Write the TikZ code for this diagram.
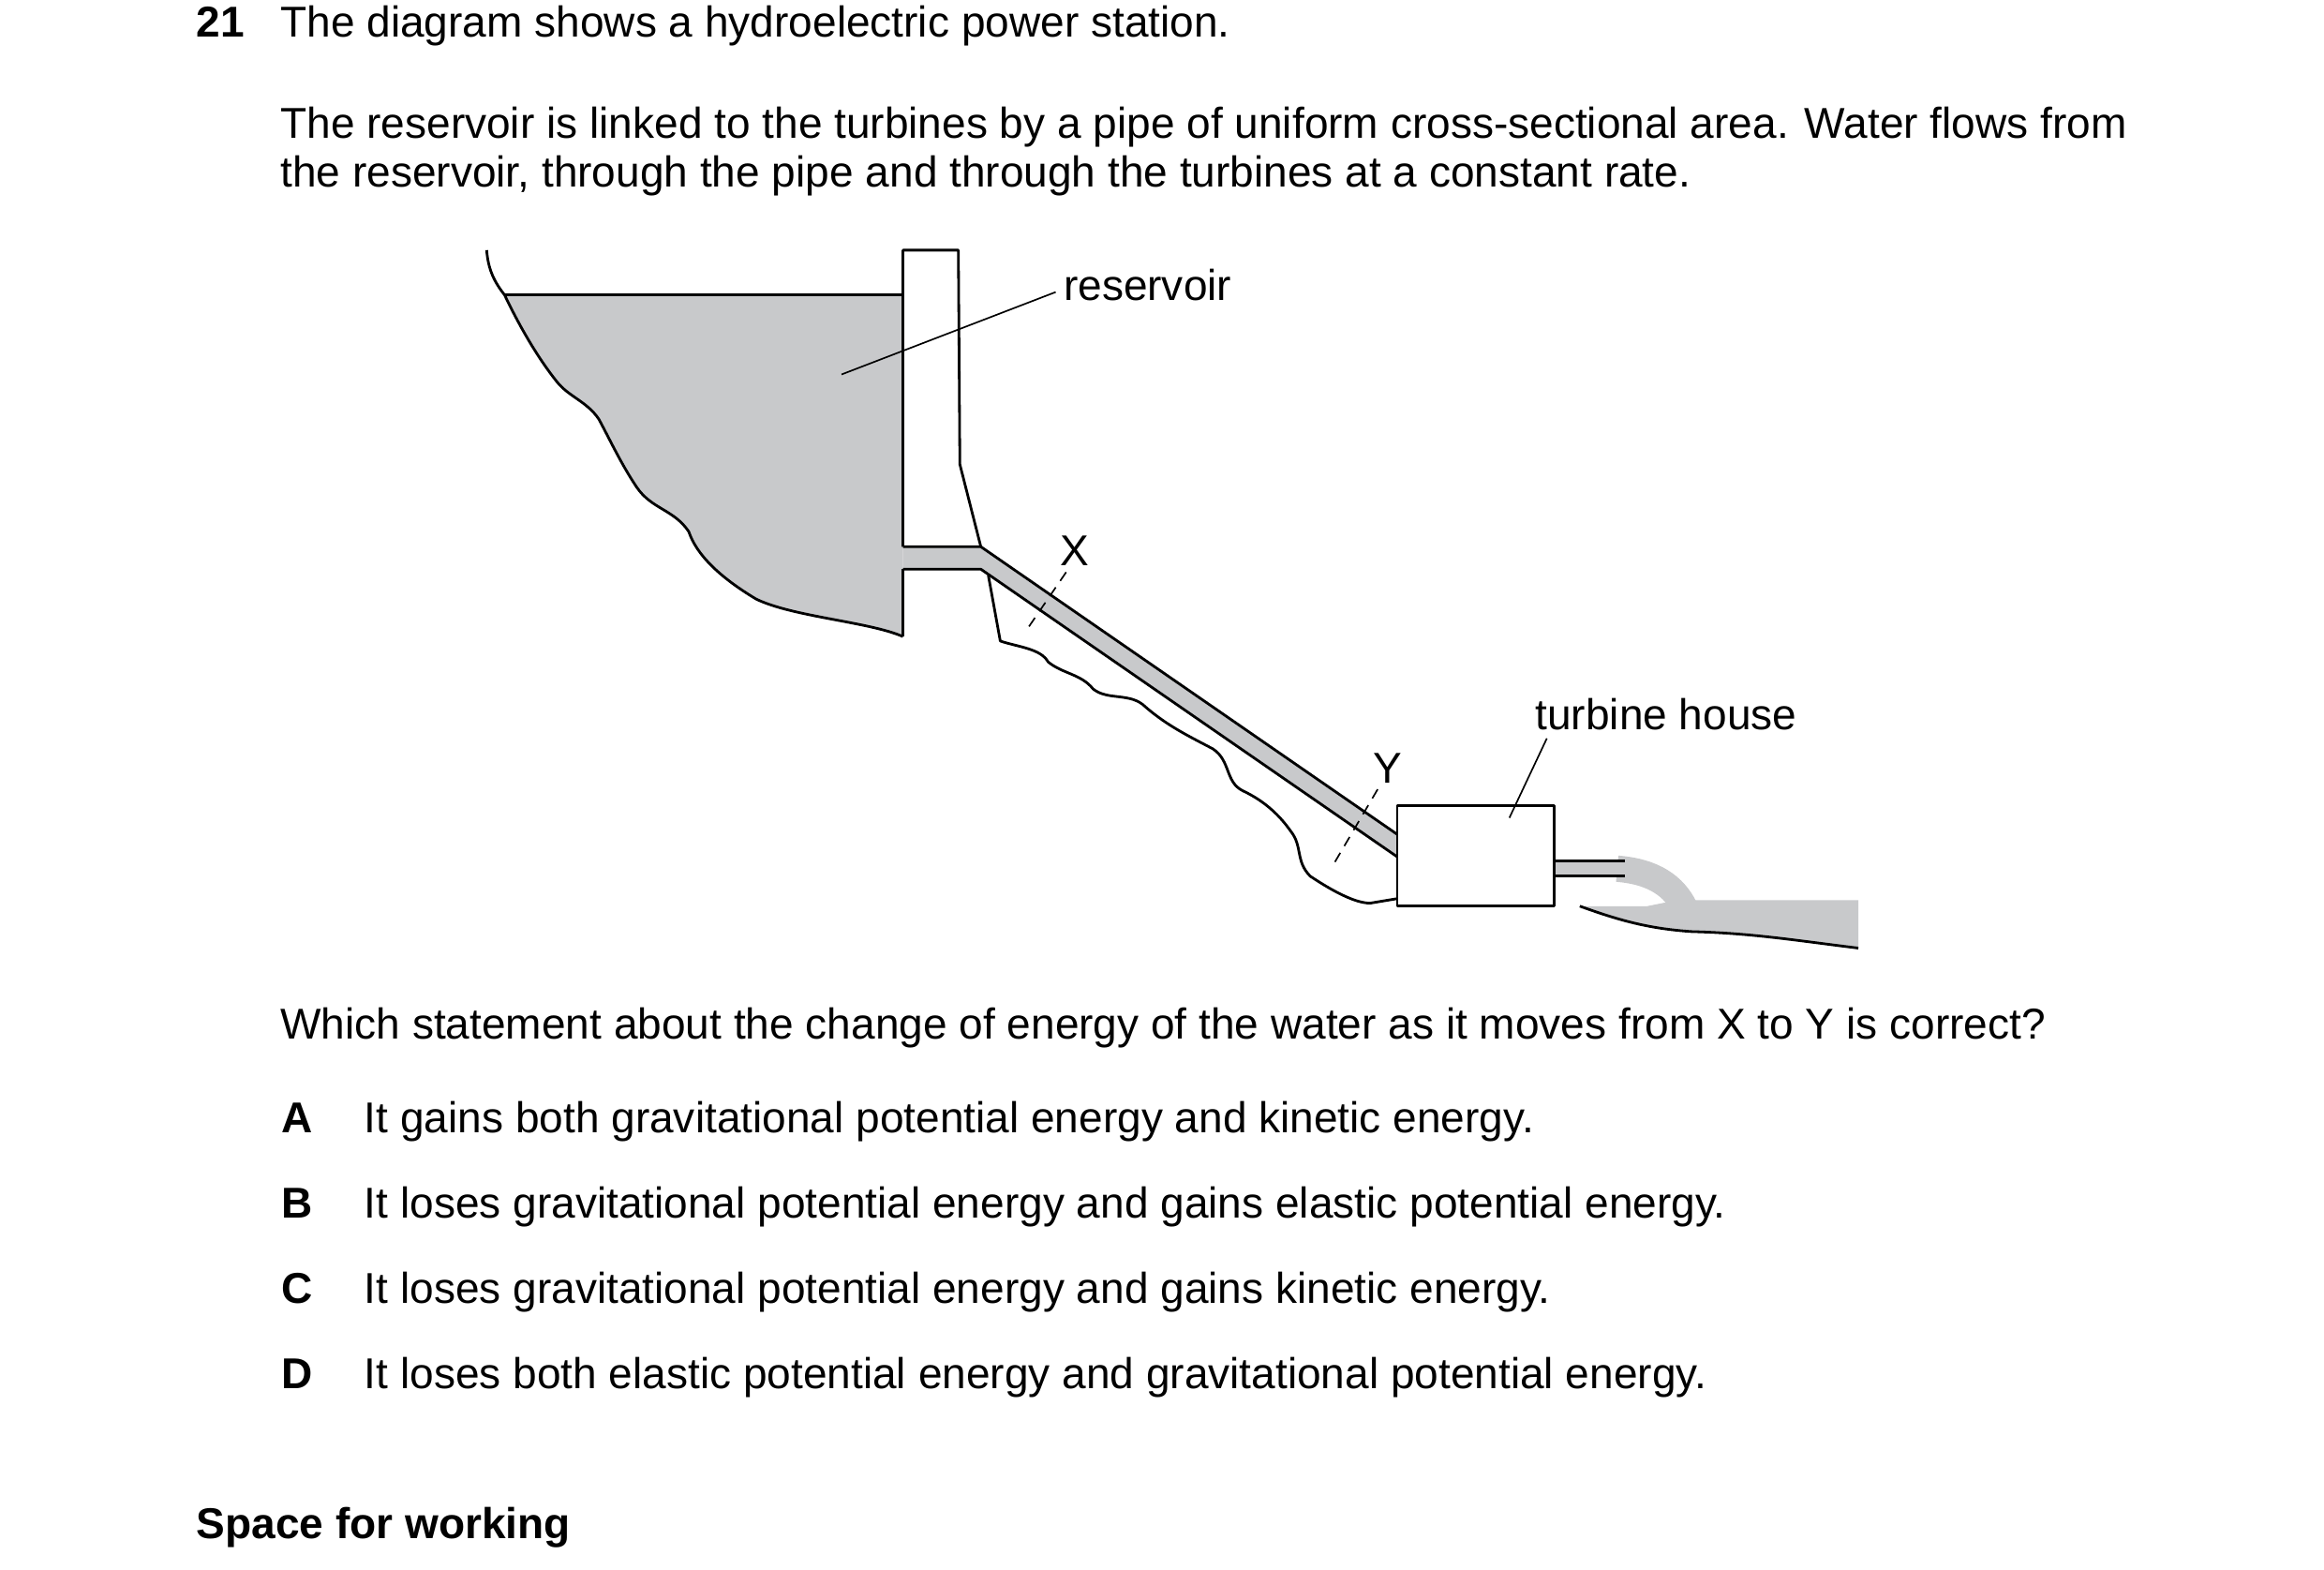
\documentclass[tikz,border=0pt]{standalone}
\usepackage{fontspec}
\setmainfont{Liberation Sans}
\begin{document}
\begin{tikzpicture}[x=0.02cm,y=-0.02cm,
  txt/.style={anchor=base west,inner sep=0pt,font=\fontsize{16.4}{19}\selectfont},
  btxt/.style={txt,font=\fontsize{16.4}{19}\selectfont\bfseries},
  ln/.style={line width=1pt,line join=round},
  lead/.style={line width=0.6pt},
  dsh/.style={line width=0.6pt,dash pattern=on 4pt off 3pt}]
\definecolor{wat}{HTML}{C8C9CB}
\useasboundingbox (0,0) rectangle (1552,1048);
% texts
\node[btxt] (n21) at (131,25) {21};
\node[txt] (t1) at (187,25) {The diagram shows a hydroelectric power station.};
\node[txt] (t2) at (187,92) {The reservoir is linked to the turbines by a pipe of uniform cross-sectional area. Water flows from};
\node[txt] (t3) at (187,125) {the reservoir, through the pipe and through the turbines at a constant rate.};
\node[txt] (q) at (187,694) {Which statement about the change of energy of the water as it moves from X to Y is correct?};
\foreach \l/\y/\s in {A/756/{It gains both gravitational potential energy and kinetic energy.},
  B/813/{It loses gravitational potential energy and gains elastic potential energy.},
  C/870/{It loses gravitational potential energy and gains kinetic energy.},
  D/927/{It loses both elastic potential energy and gravitational potential energy.}}{
  \node[btxt] (L\l) at (188,\y) {\l};
  \node[txt] (O\l) at (243,\y) {\s};}
\node[btxt] (sw) at (131,1027) {Space for working};
% reservoir water
\fill[wat] (337,197) -- (603,197) -- (603,425)
  .. controls (580,415) and (530,412) .. (505,400)
  .. controls (480,385) and (465,370) .. (460,355)
  .. controls (450,340) and (435,340) .. (425,325)
  .. controls (415,310) and (408,295) .. (400,280)
  .. controls (392,268) and (380,265) .. (372,255)
  .. controls (360,240) and (348,220) .. (337,197) -- cycle;
\draw[ln] (325,167) .. controls (326,180) and (330,188) .. (337,197)
  .. controls (348,220) and (360,240) .. (372,255)
  .. controls (380,265) and (392,268) .. (400,280)
  .. controls (408,295) and (415,310) .. (425,325)
  .. controls (435,340) and (450,340) .. (460,355)
  .. controls (465,370) and (480,385) .. (505,400)
  .. controls (530,412) and (580,415) .. (603,425);
\draw[ln] (337,197) -- (603,197);
% dam
\fill[white] (603,167) -- (640,167) -- (641,310) -- (655,365) -- (603,365) -- cycle;
\draw[ln] (603,365) -- (603,167) -- (640,167) -- (641,310) -- (655,365);
\draw[ln] (603,425) -- (603,380);
% pipe
\fill[wat] (603,365) -- (655,365) -- (933,557) -- (933,572) -- (655,380) -- (603,380) -- cycle;
\draw[ln] (603,365) -- (655,365) -- (933,557);
\draw[ln] (603,380) -- (655,380) -- (933,572);
% ground below pipe
\draw[ln] (660,384) -- (668,428) .. controls (680,432) and (695,433) .. (700,442)
  .. controls (710,450) and (722,450) .. (730,460)
  .. controls (740,468) and (755,462) .. (765,472)
  .. controls (780,485) and (795,492) .. (810,500)
  .. controls (822,508) and (818,522) .. (830,528)
  .. controls (845,535) and (855,545) .. (862,555)
  .. controls (870,565) and (865,575) .. (875,585)
  .. controls (890,595) and (905,603) .. (915,603) -- (933,600);
% outlet
\fill[wat] (1038,575) -- (1085,575) -- (1085,585) -- (1038,585) -- cycle;
\draw[wat,line width=10pt] (1080,580) .. controls (1105,582) and (1118,592) .. (1125,606);
\fill[wat] (1120,601) -- (1241,601) -- (1241,633)
  .. controls (1200,628) and (1170,623) .. (1130,622)
  .. controls (1100,620) and (1080,614) .. (1055,605) -- (1100,605) -- cycle;
\draw[ln] (1038,575) -- (1085,575);
\draw[ln] (1038,585) -- (1085,585);
\draw[ln] (1055,605) .. controls (1080,614) and (1100,620) .. (1130,622)
  .. controls (1170,623) and (1200,628) .. (1241,633);
% turbine house
\node[draw,ln,fill=white,minimum width=2.1cm,minimum height=1.34cm,inner sep=0pt] (th) at (985.5,571.5) {};
% labels
\node[txt,anchor=west] (res) at (710,190) {reservoir};
\coordinate (rl) at (562,250);
\draw[lead] (705,195) -- (rl);
\node[txt,anchor=center] (X) at (718,368) {X};
\coordinate (x1) at (712,382); \coordinate (x2) at (686,420);
\draw[dsh] (x1) -- (x2);
\node[txt,anchor=center] (Y) at (927,513) {Y};
\coordinate (y1) at (920,527); \coordinate (y2) at (890,578);
\draw[dsh] (y1) -- (y2);
\node[txt,anchor=west] (tl) at (1025,477) {turbine house};
\coordinate (tp) at (1008,546);
\draw[lead] (1033,493) -- (tp);
\end{tikzpicture}
\end{document}
